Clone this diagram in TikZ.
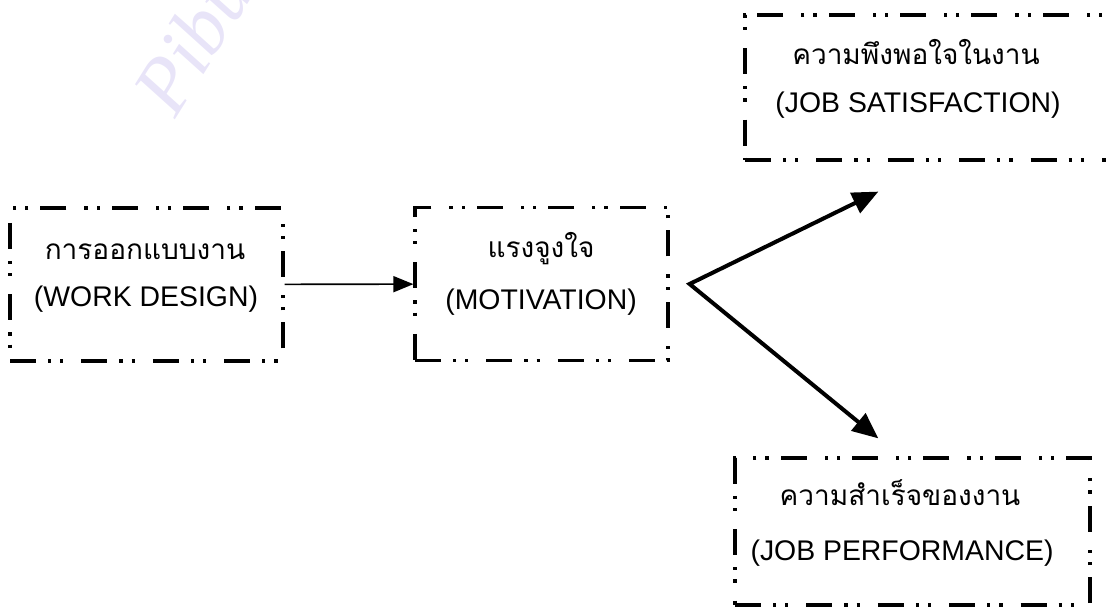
\documentclass[tikz,border=0pt]{standalone}
\usepackage{fontspec}
\setmainfont{Liberation Sans}
\newfontfamily\thaifont[Script=Thai]{Loma}
\newfontfamily\wmfont{Liberation Serif}
\usetikzlibrary{arrows.meta,positioning}
\definecolor{wmark}{RGB}{232,228,248}

\tikzset{
  boxnode/.style={draw, rectangle, inner sep=0pt, line width=1.6pt,
    dash pattern=on 13pt off 6pt on 1.6pt off 4.5pt on 1.6pt off 9pt},
  thlabel/.style={font=\thaifont\fontsize{14}{16}\selectfont, anchor=base},
  enlabel/.style={font=\fontsize{14.2}{16}\selectfont, anchor=base},
  thinarrow/.style={line width=0.8pt, -{Triangle[length=10pt,width=8pt]}},
  fork arrows/.style={line width=2pt,
    {Triangle[length=13pt,width=11pt]}-{Triangle[length=13pt,width=11pt]}},
}

\begin{document}
\begin{tikzpicture}[x=0.5pt,y=-0.5pt]
\useasboundingbox (0,0) rectangle (1106,613);
\clip (0,0) rectangle (1106,613);

% watermark of the scan
\node[text=wmark, rotate=58, font=\wmfont\itshape\fontsize{40}{40}\selectfont] (mark) at (198,32) {Pibul};

% the four boxes
\node[boxnode, minimum width=136.5pt, minimum height=76.5pt] (design) at (146.5,284.5) {};
\node[boxnode, minimum width=126.5pt, minimum height=76.5pt] (motiv) at (541.5,284) {};
\node[boxnode, minimum width=187.5pt, minimum height=72.5pt] (satis) at (932.5,87.5) {};
\node[boxnode, minimum width=177.5pt, minimum height=73.5pt] (perf) at (912.5,531.5) {};

% texts
\node[thlabel] (design-th) at (145,260) {การออกแบบงาน};
\node[enlabel] (design-en) at (146,307) {(WORK DESIGN)};
\node[thlabel] (motiv-th) at (541,258) {แรงจูงใจ};
\node[enlabel] (motiv-en) at (541,310) {(MOTIVATION)};
\node[thlabel] (satis-th) at (916,65) {ความพึงพอใจในงาน};
\node[enlabel] (satis-en) at (918,113) {(JOB SATISFACTION)};
\node[thlabel] (perf-th) at (900,505) {ความสำเร็จของงาน};
\node[enlabel] (perf-en) at (902,560) {(JOB PERFORMANCE)};

% connectors
\coordinate (fork) at ([xshift=10pt]motiv.east);
\coordinate (satis-in) at ([xshift=67.5pt,yshift=-15pt]satis.south west);
\coordinate (perf-in) at ([xshift=72.5pt,yshift=9pt]perf.north west);
\draw[thinarrow] (design) -- (motiv);
\draw[fork arrows] (satis-in) -- (fork) -- (perf-in);
\end{tikzpicture}
\end{document}
